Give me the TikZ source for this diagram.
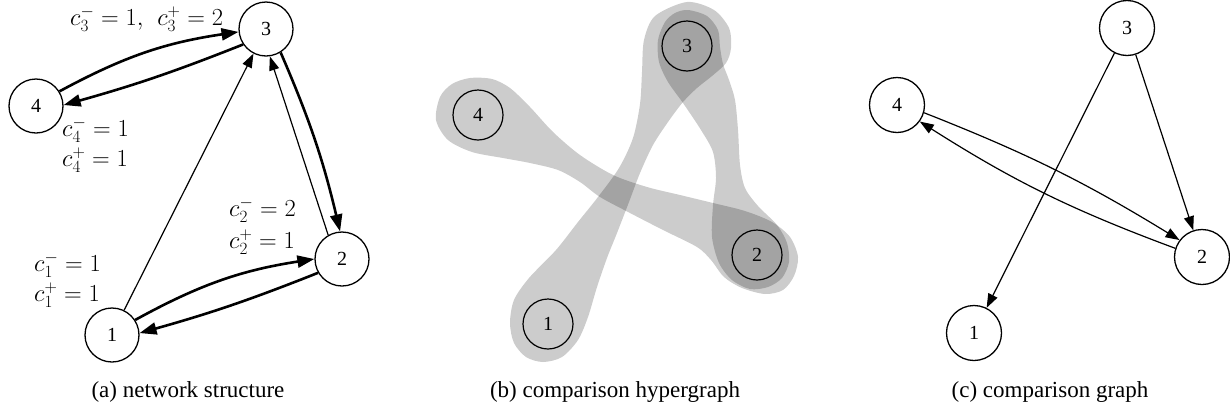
\RequirePackage{fix-cm}
\documentclass[tikz,border=0pt]{standalone}
\usepackage{fontspec}
\newfontfamily\timesfont{Liberation Serif}
\usetikzlibrary{arrows.meta}
\begin{document}
\begin{tikzpicture}[x=1pt,y=-1pt,
  vtx/.style={circle, draw, line width=1.3pt, minimum size=54pt, inner sep=0pt,
    font=\timesfont\fontsize{20}{24}\selectfont},
  hvtx/.style={vtx, minimum size=50pt, line width=1.2pt},
  gvtx/.style={vtx, minimum size=55pt},
  thickedge/.style={line width=2.6pt, -{Triangle[length=17pt,width=12pt]}},
  thinedge/.style={line width=1.2pt, -{Triangle[length=14pt,width=10pt]}},
  lbl/.style={anchor=base west, inner sep=0pt, font=\fontsize{24.5}{28}\selectfont},
  subcaption/.style={anchor=base, inner sep=0pt, font=\timesfont\fontsize{23}{27}\selectfont},
  hyper/.style={fill=black, fill opacity=0.2},
]
\useasboundingbox (0,0) rectangle (1230,413);

% ---------- (a) network structure ----------
\node[vtx] (a1) at (112,335) {1};
\node[vtx] (a2) at (342,259) {2};
\node[vtx] (a3) at (266,29)  {3};
\node[vtx] (a4) at (36,106)  {4};

\draw[thickedge] (a4.32)  to[bend left=10] (a3.186);
\draw[thickedge] (a3.214) to[bend left=3]  (a4.2);
\draw[thickedge] (a1.33)  to[bend left=10] (a2.180);
\draw[thickedge] (a2.210) to[bend left=3]  (a1.4);
\draw[thickedge] (a3.-58) to[bend left=5]  (a2.94);
\draw[thinedge]  (a2.120) -- (a3.-82);
\draw[thinedge]  (a1.64)  -- (a3.-117);

\node[lbl] (l3) at (70,25.5)  {$c_3^-=1,\hspace{0.4em}c_3^+=2$};
\node[lbl] (l4a) at (62,136) {$c_4^-=1$};
\node[lbl] (l4b) at (62,166) {$c_4^+=1$};
\node[lbl] (l2a) at (229,216) {$c_2^-=2$};
\node[lbl] (l2b) at (229,248) {$c_2^+=1$};
\node[lbl] (l1a) at (34,271) {$c_1^-=1$};
\node[lbl] (l1b) at (34,301) {$c_1^+=1$};

\node[subcaption] (capa) at (188,397) {(a) network structure};

% ---------- (b) comparison hypergraph ----------
% hyperedge {1,3}
\fill[hyper] plot[smooth cycle] coordinates {
  (687,2) (714,10) (729,28) (731,48) (726,63) (712,76) (697,88) (683,102)
  (668,122) (653,145) (640,173) (629,202) (617,233) (607,258) (597,287)
  (588,317) (578,340) (562,357) (543,362) (526,357) (514,343) (510,323)
  (514,300) (529,278) (556,250) (578,222) (598,197) (619,168) (633,138)
  (640,104) (642,72) (644,40) (655,16)};
% hyperedge {2,3}
\fill[hyper] plot[smooth cycle] coordinates {
  (688,10) (707,16) (718,30) (720,47) (723,64) (729,80) (735,100) (738,130)
  (740,165) (745,188) (758,206) (777,225) (787,243) (789,262) (782,278)
  (768,287) (750,289) (732,280) (719,263) (712,237) (713,205) (716,178)
  (713,152) (701,130) (683,103) (668,82) (659,62) (658,40) (665,22) (675,13)};
% hyperedge {2,4}
\fill[hyper] plot[smooth cycle] coordinates {
  (470,78) (492,79) (510,88) (530,107) (553,132) (580,155) (613,175)
  (647,187) (680,195) (713,203) (745,211) (772,222) (790,237) (798,257)
  (794,276) (783,290) (765,294) (742,288) (724,277) (711,260) (697,247)
  (663,230) (630,213) (600,197) (580,182) (558,170) (530,163) (503,158)
  (472,152) (448,140) (436,120) (440,97) (452,84)};

\node[hvtx] (b1) at (548,324) {1};
\node[hvtx] (b2) at (757,255) {2};
\node[hvtx] (b3) at (687,46)  {3};
\node[hvtx] (b4) at (478,115) {4};

\node[subcaption] (capb) at (615,397) {(b) comparison hypergraph};

% ---------- (c) comparison graph ----------
\node[gvtx] (c1) at (974,333)  {1};
\node[gvtx] (c2) at (1202,257) {2};
\node[gvtx] (c3) at (1127,28)  {3};
\node[gvtx] (c4) at (897,105)  {4};

\draw[thinedge] (c3) -- (c1);
\draw[thinedge] (c3) -- (c2);
\draw[thinedge] (c4.-16) to[bend left=5] (c2.143);
\draw[thinedge] (c2.162) to[bend left=6] (c4.-36);

\node[subcaption] (capc) at (1050,397) {(c) comparison graph};
\end{tikzpicture}
\end{document}
